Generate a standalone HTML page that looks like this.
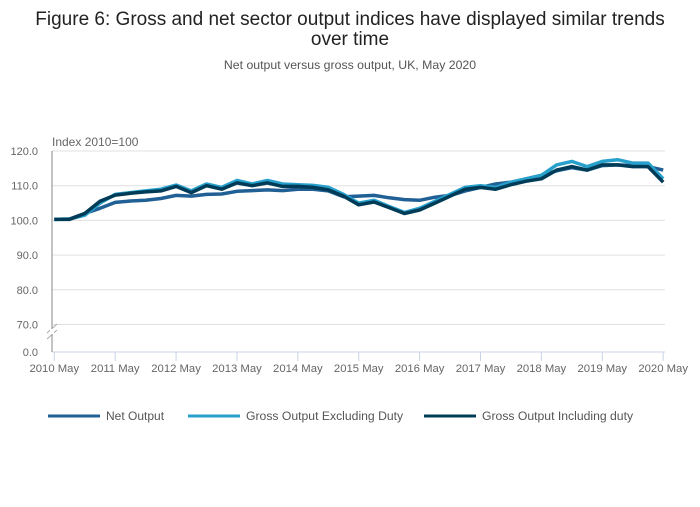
<!DOCTYPE html>
<html><head><meta charset="utf-8"><style>
body{margin:0;background:#fff;font-family:"Liberation Sans",sans-serif}
svg text{font-family:"Liberation Sans",sans-serif}
</style></head><body>
<svg width="700" height="502" viewBox="0 0 700 502">
<text x="350" y="25" text-anchor="middle" font-size="19" fill="#222">Figure 6: Gross and net sector output indices have displayed similar trends</text>
<text x="350" y="45" text-anchor="middle" font-size="19" fill="#222">over time</text>
<text x="350" y="69" text-anchor="middle" font-size="12.3" fill="#555">Net output versus gross output, UK, May 2020</text>
<text x="52" y="146" font-size="12" fill="#666">Index 2010=100</text>
<g id="grid"></g><g id="axes"></g><g id="series"></g>
<g>
<g><line x1="48" y1="416" x2="100" y2="416" stroke="#206095" stroke-width="3"/><text x="106" y="420" font-size="12" fill="#555">Net Output</text></g>
<g><line x1="188" y1="416" x2="240" y2="416" stroke="#27a0cc" stroke-width="3"/><text x="246" y="420" font-size="12.2" fill="#555">Gross Output Excluding Duty</text></g>
<g><line x1="424" y1="416" x2="476" y2="416" stroke="#003c57" stroke-width="3"/><text x="482" y="420" font-size="12.2" fill="#555">Gross Output Including duty</text></g>
</g>
</svg>
<script>
const yTicks=[0,70,80,90,100,110,120];
const yTickLabels=["0.0","70.0","80.0","90.0","100.0","110.0","120.0"];
const xTickLabels=["2010 May","2011 May","2012 May","2013 May","2014 May","2015 May","2016 May","2017 May","2018 May","2019 May","2020 May"];
const netOutput=[100.3,100.4,102,103.5,105.2,105.6,105.8,106.3,107.2,107,107.5,107.6,108.4,108.6,108.8,108.6,109,109,108.5,106.8,107,107.2,106.5,106,105.8,106.7,107.2,108.5,109.5,110.5,111,112,113,114.3,115.2,114.5,115.8,116,115.8,115.5,114.5];
const grossExclDuty=[100.3,100.4,101.5,105,107.5,108,108.5,109,110.2,108.5,110.5,109.5,111.5,110.5,111.5,110.5,110.3,110.1,109.5,107.5,105,105.8,104,102.3,103.5,105.5,107.5,109.5,110,109.5,111,112,113,116,117,115.5,117,117.5,116.5,116.5,112];
const grossInclDuty=[100.3,100.3,102,105.5,107.3,107.8,108.2,108.5,109.8,108,110,109,110.8,110,110.8,109.8,109.8,109.5,108.8,107,104.5,105.3,103.7,102,103,105,107,109,109.5,109,110.3,111.3,112,114.5,115.5,114.5,116,116,115.5,115.5,111];
const NS="http://www.w3.org/2000/svg";
function y(v){return v<70?352-(v/70)*27.5:324.5-(v-70)*3.47;}
function x(m){return 54.3+m*5.074;}
function mk(t,a,p){const e=document.createElementNS(NS,t);for(const k in a)e.setAttribute(k,a[k]);p.appendChild(e);return e;}
const grid=document.getElementById('grid'),axes=document.getElementById('axes'),ser=document.getElementById('series');
yTicks.forEach((v,i)=>{
 if(v>0){const l=mk('line',{x1:52,x2:665,y1:y(v),y2:y(v),stroke:'#e0e0e0'},grid);
 
 }
 const t=mk('text',{x:38,y:y(v)+4,'text-anchor':'end','font-size':11,fill:'#666'},axes);t.textContent=yTickLabels[i];
 
 
});
mk('line',{x1:52,x2:665,y1:352,y2:352,stroke:'#c8d3e6'},axes);
mk('line',{x1:52,x2:52,y1:151,y2:352,stroke:'#888'},axes);
mk('line',{x1:47,x2:57,y1:333,y2:324,stroke:'#aaa'},axes);
mk('line',{x1:47,x2:57,y1:339,y2:330,stroke:'#aaa'},axes);
mk('rect',{x:50,y:329,width:4,height:5,fill:'#fff'},axes);
xTickLabels.forEach((s,i)=>{
 const xx=x(i*12);
 mk('line',{x1:xx,x2:xx,y1:352,y2:361,stroke:'#c8d3e6'},axes);
 const t=mk('text',{x:xx,y:372,'text-anchor':'middle','font-size':11.3,fill:'#666'},axes);t.textContent=s;
 
 
});
[[netOutput,'#206095','net-output-line'],[grossExclDuty,'#27a0cc','gross-excl-duty-line'],[grossInclDuty,'#003c57','gross-incl-duty-line']].forEach(([d,c,n])=>{
 const p=mk('path',{d:d.map((v,i)=>(i?'L':'M')+x(i*3).toFixed(1)+' '+y(v).toFixed(1)).join(''),fill:'none',stroke:c,'stroke-width':3.5,'stroke-linejoin':'round'},ser);
 
 
});
</script>
</body></html>
